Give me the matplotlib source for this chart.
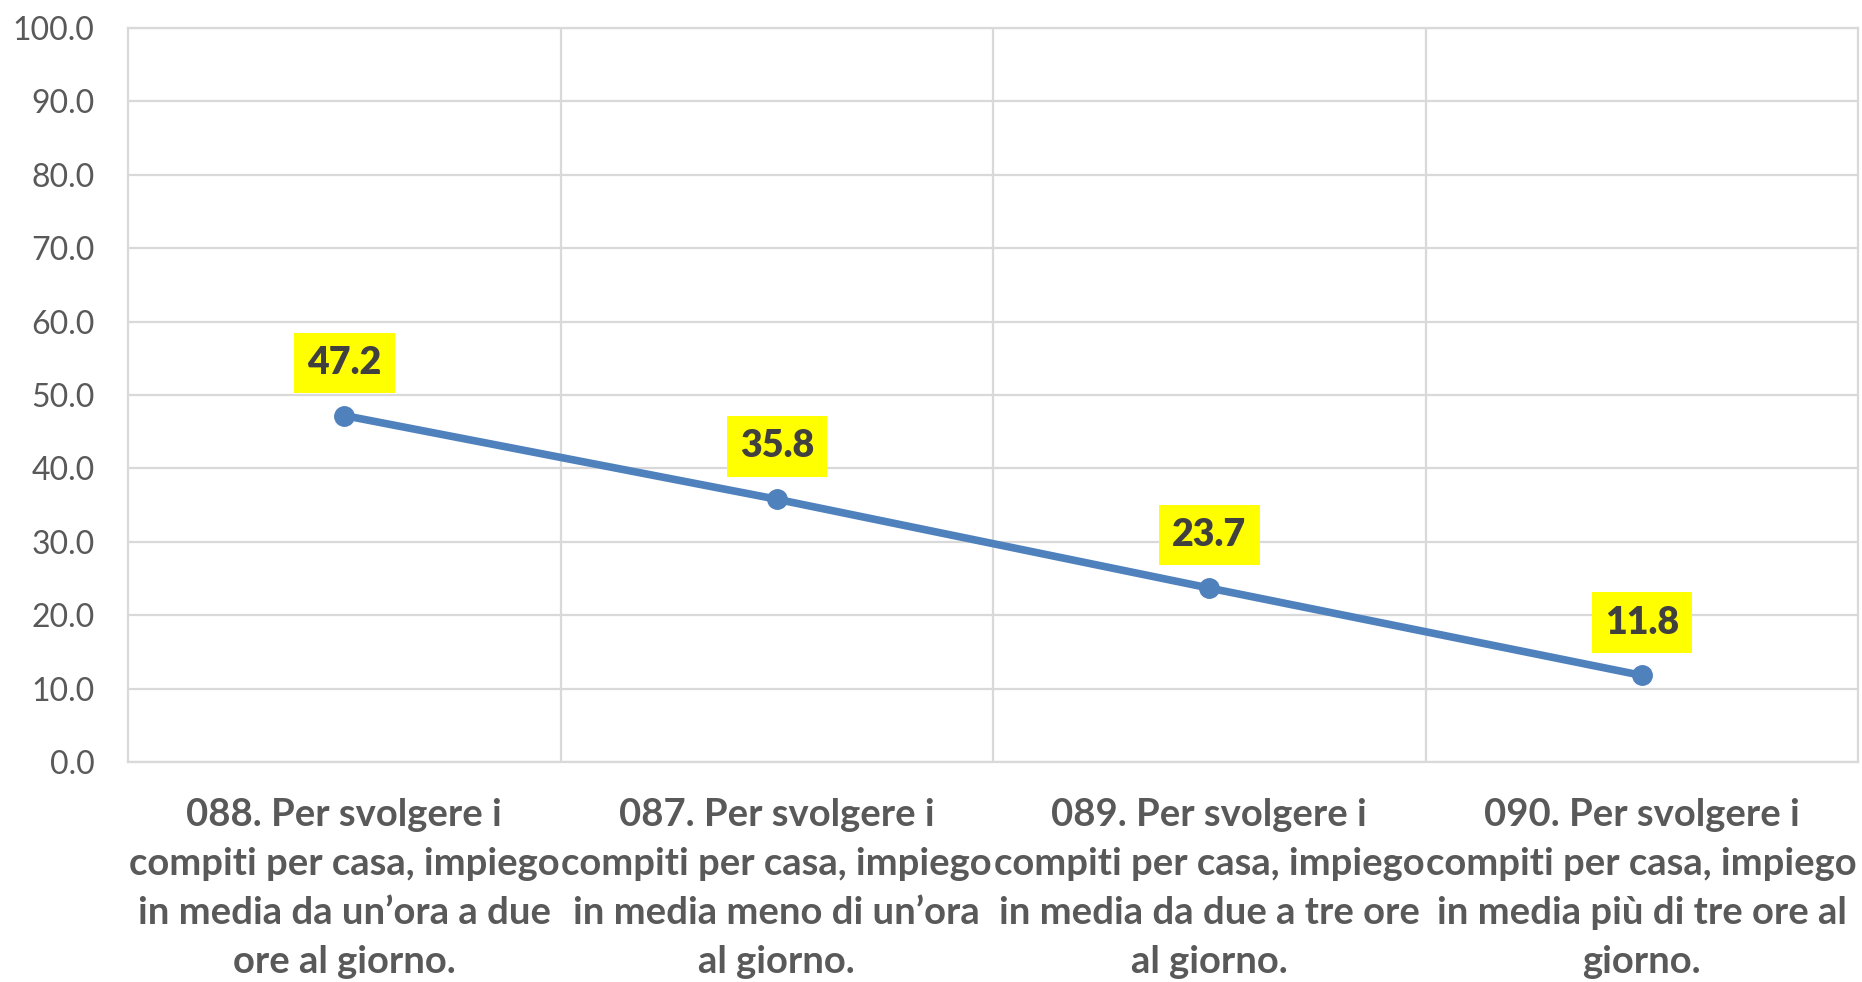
import numpy as np
import matplotlib.pyplot as plt

categories = [
    "088. Per svolgere i\ncompiti per casa, impiego\nin media da un\u2019ora a due\nore al giorno.",
    "087. Per svolgere i\ncompiti per casa, impiego\nin media meno di un\u2019ora\nal giorno.",
    "089. Per svolgere i\ncompiti per casa, impiego\nin media da due a tre ore\nal giorno.",
    "090. Per svolgere i\ncompiti per casa, impiego\nin media pi\u00f9 di tre ore al\ngiorno.",
]
values = [47.2, 35.8, 23.7, 11.8]
yticks = np.arange(0, 101, 10)

plt.rcParams['font.family'] = ['Lato', 'DejaVu Sans']

fig = plt.figure(figsize=(18.62, 9.82), dpi=100)
ax = fig.add_axes([128 / 1862, 220 / 982, 1730 / 1862, 734 / 982])

x = np.arange(len(values))
ax.plot(x, values, color='#4F81BD', lw=5.5, marker='o', markersize=14, zorder=3)

for xi, v in zip(x, values):
    ax.annotate(f"{v:.1f}", (xi, v), xytext=(0, 38), textcoords='offset points',
                ha='center', va='center', fontsize=27, fontweight='heavy', color='#404040',
                bbox=dict(boxstyle='square,pad=0.35', fc='#FFFF00', ec='none'), zorder=4)

ax.set_xlim(-0.5, len(values) - 0.5)
ax.set_ylim(0, 100)
ax.set_yticks(yticks)
ax.set_yticklabels([f"{t:.1f}" for t in yticks], fontsize=23, color='#595959')
ax.set_xticks(x)
ax.set_xticklabels(categories, fontsize=27.5, fontweight='bold', color='#595959', linespacing=1.53)
ax.set_xticks(np.arange(0.5, len(values) - 0.5), minor=True)
ax.tick_params(axis='both', which='both', length=0)
ax.tick_params(axis='y', pad=24)
ax.tick_params(axis='x', pad=26)

ax.grid(axis='y', color='#D9D9D9', lw=1.6)
ax.grid(axis='x', which='minor', color='#D9D9D9', lw=1.6)
ax.set_axisbelow(True)
for s in ax.spines.values():
    s.set_color('#D9D9D9')
    s.set_linewidth(1.6)

fig.savefig('out.png', dpi=100, facecolor='white')
